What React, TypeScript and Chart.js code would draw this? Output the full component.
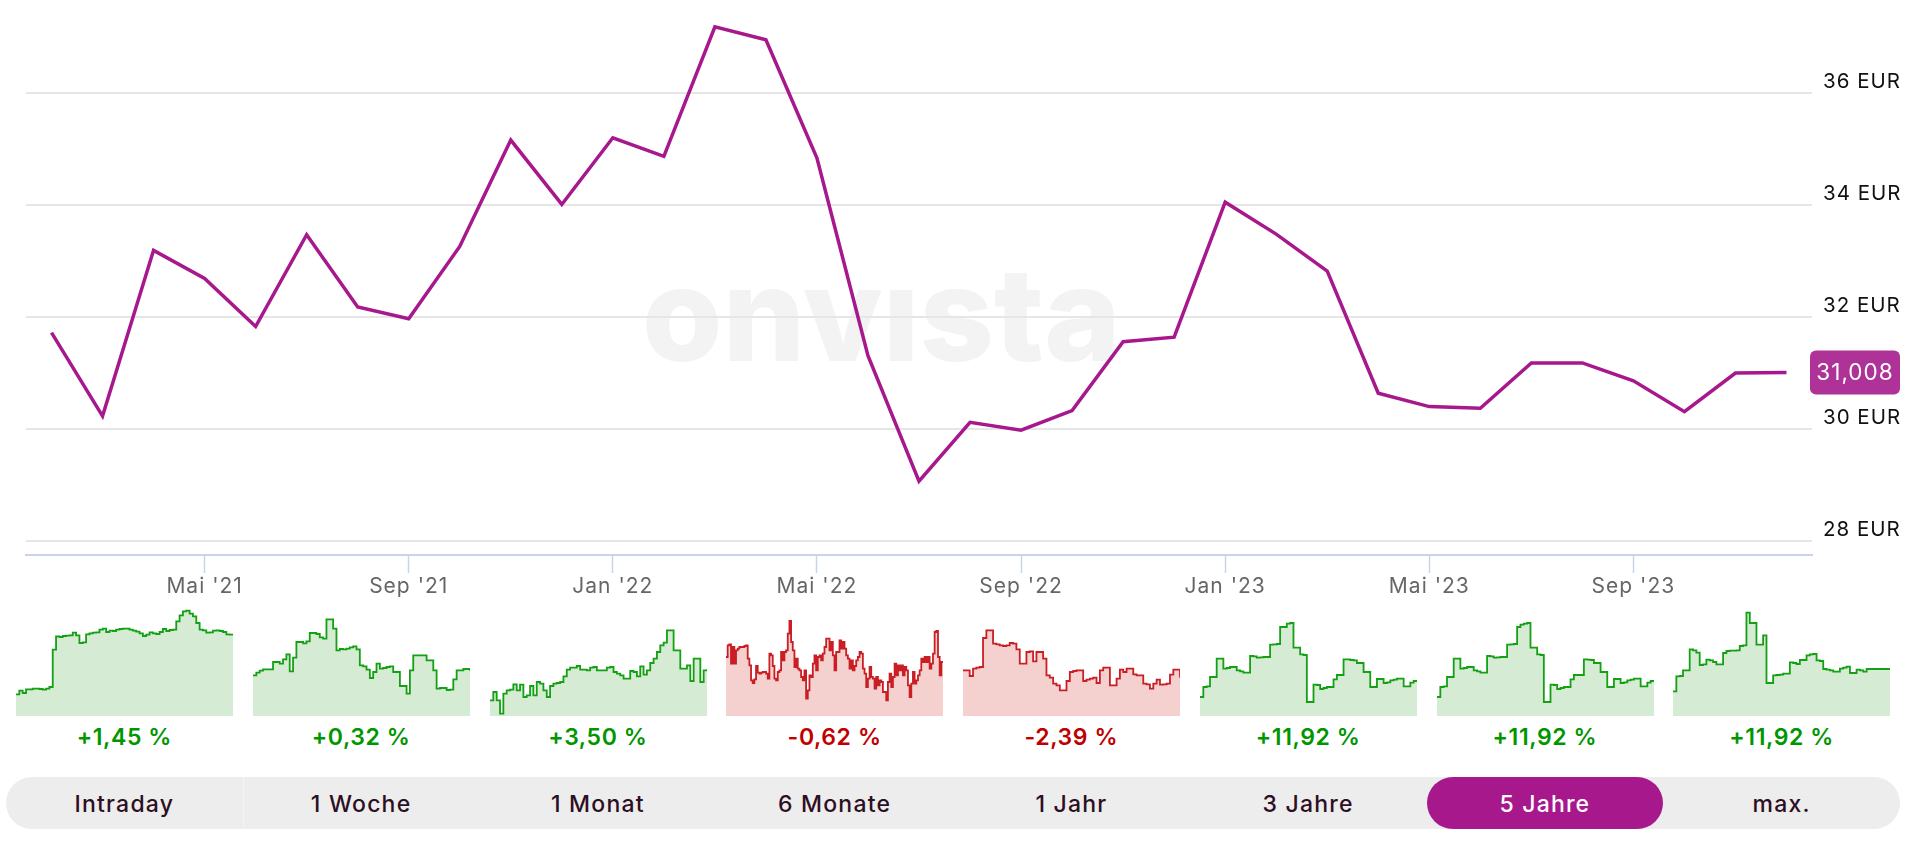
import React, { useEffect, useRef } from "react";
import Chart from "chart.js/auto";

const months = [
  "Feb '21", "Mär '21", "Apr '21", "Mai '21", "Jun '21", "Jul '21", "Aug '21", "Sep '21", "Okt '21", "Nov '21", "Dez '21",
  "Jan '22", "Feb '22", "Mär '22", "Apr '22", "Mai '22", "Jun '22", "Jul '22", "Aug '22", "Sep '22", "Okt '22", "Nov '22", "Dez '22",
  "Jan '23", "Feb '23", "Mär '23", "Apr '23", "Mai '23", "Jun '23", "Jul '23", "Aug '23", "Sep '23", "Okt '23", "Nov '23", "Dez '23",
];
const prices = [
  31.72, 30.23, 33.19, 32.69, 31.83, 33.47, 32.18, 31.97, 33.26, 35.16, 34.01,
  35.2, 34.87, 37.18, 36.95, 34.84, 31.31, 29.07, 30.12, 29.98, 30.33, 31.56, 31.64,
  34.05, 33.48, 32.82, 30.64, 30.4, 30.37, 31.18, 31.18, 30.86, 30.31, 31.0, 31.008,
];
const priceTicks = [28, 30, 32, 34, 36];
const lastPriceLabel = "31,008";

const periods = ["Intraday", "1 Woche", "1 Monat", "6 Monate", "1 Jahr", "3 Jahre", "5 Jahre", "max."];
const changes = ["+1,45 %", "+0,32 %", "+3,50 %", "-0,62 %", "-2,39 %", "+11,92 %", "+11,92 %", "+11,92 %"];

const sparkIntraday = [65, 76, 69, 80, 80, 82, 82, 81, 79, 82, 87, 199, 239, 237, 240, 241, 242, 250, 242, 219, 221, 245, 248, 250, 251, 259, 262, 252, 256, 255, 259, 261, 262, 262, 259, 256, 253, 248, 240, 244, 251, 248, 246, 252, 261, 255, 258, 259, 284, 302, 314, 316, 307, 299, 279, 259, 257, 250, 251, 256, 257, 255, 252, 245, 244, 242];
const sparkWeek = [122, 130, 136, 140, 140, 140, 162, 162, 157, 170, 185, 134, 175, 222, 222, 218, 224, 249, 249, 246, 236, 232, 290, 290, 262, 197, 201, 200, 202, 206, 209, 200, 152, 149, 139, 114, 132, 157, 142, 144, 147, 149, 132, 132, 90, 90, 67, 137, 182, 182, 182, 182, 167, 167, 137, 82, 84, 84, 78, 79, 110, 137, 137, 141, 141, 136];
const sparkMonth = [47, 72, 47, 7, 67, 77, 79, 95, 77, 94, 57, 62, 90, 62, 102, 97, 77, 57, 90, 97, 99, 102, 119, 139, 145, 145, 150, 139, 139, 137, 145, 147, 137, 137, 137, 145, 147, 132, 127, 122, 112, 112, 135, 132, 119, 149, 124, 137, 159, 172, 192, 212, 220, 257, 257, 197, 197, 142, 142, 152, 105, 172, 172, 102, 137, 140];
const sparkSixMonths = [177, 212, 215, 157, 207, 157, 197, 202, 207, 207, 207, 210, 212, 172, 152, 107, 99, 110, 150, 130, 127, 130, 132, 132, 127, 112, 187, 182, 150, 112, 107, 132, 137, 192, 167, 192, 197, 247, 285, 222, 197, 147, 172, 142, 137, 117, 107, 137, 52, 77, 122, 117, 157, 182, 137, 177, 182, 167, 187, 207, 232, 232, 197, 222, 182, 137, 192, 192, 227, 202, 222, 202, 182, 172, 142, 167, 137, 150, 167, 177, 192, 187, 142, 127, 87, 112, 147, 117, 112, 82, 117, 92, 107, 102, 72, 72, 47, 102, 127, 87, 117, 157, 122, 152, 137, 152, 122, 147, 137, 92, 57, 97, 132, 97, 107, 122, 137, 172, 162, 177, 162, 177, 142, 157, 187, 252, 255, 177, 122, 162, 160];
const sparkYear = [137, 137, 120, 142, 145, 147, 234, 257, 257, 217, 215, 212, 210, 212, 219, 217, 200, 157, 157, 192, 194, 164, 192, 192, 172, 122, 115, 97, 92, 77, 77, 105, 132, 135, 137, 137, 105, 109, 112, 115, 99, 137, 145, 145, 92, 92, 112, 139, 132, 142, 142, 125, 122, 122, 97, 95, 82, 97, 109, 94, 95, 97, 124, 139, 139, 115];
const sparkThreeYears = [57, 87, 89, 117, 117, 172, 172, 142, 144, 147, 147, 137, 134, 130, 130, 180, 179, 175, 176, 177, 177, 214, 215, 216, 267, 267, 277, 279, 205, 205, 185, 183, 42, 42, 94, 93, 81, 84, 87, 87, 110, 123, 123, 170, 170, 168, 167, 159, 159, 132, 132, 87, 87, 111, 111, 99, 101, 107, 109, 112, 112, 89, 89, 100, 105, 107];
const sparkFiveYears = [57, 87, 89, 117, 117, 172, 172, 142, 144, 147, 147, 137, 134, 130, 130, 180, 179, 175, 176, 177, 177, 214, 215, 216, 267, 274, 277, 279, 205, 205, 185, 183, 42, 42, 94, 93, 81, 84, 87, 87, 110, 123, 123, 123, 170, 169, 168, 159, 159, 132, 132, 87, 87, 111, 111, 99, 101, 107, 109, 112, 112, 89, 89, 100, 105, 107];
const sparkMax = [74, 119, 120, 137, 137, 200, 197, 190, 153, 155, 169, 167, 162, 155, 155, 189, 195, 196, 196, 197, 210, 212, 310, 279, 279, 214, 214, 242, 99, 99, 122, 123, 124, 127, 127, 161, 159, 156, 168, 168, 182, 185, 186, 167, 165, 141, 139, 137, 133, 133, 142, 145, 148, 129, 129, 139, 137, 133, 141, 141, 141, 141, 141, 141, 141, 141];
const sparks = [sparkIntraday, sparkWeek, sparkMonth, sparkSixMonths, sparkYear, sparkThreeYears, sparkFiveYears, sparkMax];

const FONT = "Inter";
const PURPLE = "#a7188c";
const GREEN = { line: "#13a013", fill: "#d5ebd3", text: "#009600" };
const RED = { line: "#c81e24", fill: "#f4d0ce", text: "#c00000" };

// canvas text is a bit too tight in Inter compared to the original font
const textSpacing = {
  id: "textSpacing",
  beforeDraw(chart: any) {
    chart.ctx.letterSpacing = "1px";
  },
};

const lastPriceBadge = {
  id: "lastPriceBadge",
  afterDraw(chart: any) {
    const { ctx, scales } = chart;
    const y = scales.y.getPixelForValue(prices[prices.length - 1]);
    ctx.save();
    ctx.fillStyle = "#ae3297";
    ctx.beginPath();
    ctx.roundRect(1810, y - 22, 90, 44, 6);
    ctx.fill();
    ctx.fillStyle = "#fff";
    ctx.font = `22.5px ${FONT}`;
    ctx.textAlign = "center";
    ctx.textBaseline = "middle";
    ctx.fillText(lastPriceLabel, 1855, y + 1);
    ctx.restore();
  },
};

const MainChart = () => {
  const ref = useRef<HTMLCanvasElement>(null);
  useEffect(() => {
    const chart = new Chart(ref.current!, {
      type: "line",
      data: {
        labels: months,
        datasets: [{ data: prices, borderColor: PURPLE, borderWidth: 3.5, pointRadius: 0, tension: 0, borderJoinStyle: "miter" }],
      },
      options: {
        responsive: false,
        animation: false,
        layout: { padding: { left: 26, top: 9, right: 0, bottom: 0 } },
        plugins: { legend: { display: false }, tooltip: { enabled: false } },
        scales: {
          x: {
            offset: true,
            afterBuildTicks: (axis: any) => {
              axis.ticks = axis.ticks.filter((t: any) => /^(Jan|Mai|Sep)/.test(months[t.value]));
            },
            afterFit: (axis: any) => {
              axis.height = 45;
              axis.paddingLeft = 0;
              axis.paddingRight = 0;
            },
            border: { color: "#c8d4ea", width: 2 },
            grid: { drawOnChartArea: false, tickLength: 18, tickColor: "#c8d4ea", tickWidth: 1.5 },
            ticks: { autoSkip: false, maxRotation: 0, padding: 1, color: "#666", font: { family: FONT, size: 21 } },
          },
          y: {
            position: "right",
            min: 27.75,
            max: 37.5,
            afterBuildTicks: (axis: any) => { axis.ticks = priceTicks.map((value) => ({ value })); },
            afterFit: (axis: any) => {
              axis.width = 102;
              axis.paddingTop = 0;
              axis.paddingBottom = 0;
            },
            border: { display: false },
            grid: { color: "#e6e6e6", lineWidth: 2, drawTicks: false },
            ticks: {
              padding: 11,
              labelOffset: -11,
              color: "#111",
              font: { family: FONT, size: 20.5 },
              callback: (v: any) => `${v} EUR`,
            },
          },
        },
      },
      plugins: [textSpacing, lastPriceBadge],
    } as any);
    return () => chart.destroy();
  }, []);
  return <canvas ref={ref} width={1914} height={600} style={{ position: "absolute", left: 0, top: 0 }} />;
};

const Spark = ({ values, left, colors }: { values: number[]; left: number; colors: typeof GREEN }) => {
  const ref = useRef<HTMLCanvasElement>(null);
  useEffect(() => {
    const chart = new Chart(ref.current!, {
      type: "line",
      data: {
        labels: values.map((_, i) => i),
        datasets: [{
          data: values,
          stepped: true,
          fill: "origin",
          borderColor: colors.line,
          backgroundColor: colors.fill,
          borderWidth: 1.8,
          pointRadius: 0,
        }],
      },
      options: {
        responsive: false,
        animation: false,
        layout: { padding: 0 },
        plugins: { legend: { display: false }, tooltip: { enabled: false } },
        scales: {
          x: { display: false },
          y: { display: false, min: 0, max: 342 },
        },
      },
    } as any);
    return () => chart.destroy();
  }, [values, colors]);
  return <canvas ref={ref} width={217} height={114} style={{ position: "absolute", left, top: 602 }} />;
};

const SLOT = 236.75;
const BAR_LEFT = 6;

export default function App() {
  const active = periods.indexOf("5 Jahre");
  return (
    <div style={{ position: "absolute", left: 0, top: 0, width: 1914, height: 852, background: "#fff", overflow: "hidden", fontFamily: FONT }}>
      <div style={{ position: "absolute", left: 642, top: 234, fontWeight: 800, fontSize: 130, lineHeight: "160px", color: "#f3f3f3" }}>
        onvista
      </div>
      {/* the logo's i has no dot */}
      <div style={{ position: "absolute", left: 875, top: 240, width: 42, height: 47, background: "#fff" }} />
      <MainChart />
      {sparks.map((values, i) => {
        const colors = changes[i].startsWith("-") ? RED : GREEN;
        const slotLeft = BAR_LEFT + SLOT * i;
        return (
          <React.Fragment key={periods[i]}>
            <Spark values={values} left={slotLeft + 10} colors={colors} />
            <div style={{ position: "absolute", left: slotLeft, width: SLOT, top: 722, height: 30, lineHeight: "30px", textAlign: "center", fontSize: 23, letterSpacing: 0.6, fontWeight: 600, color: colors.text }}>
              {changes[i]}
            </div>
          </React.Fragment>
        );
      })}
      <div style={{ position: "absolute", left: BAR_LEFT, top: 777, width: 1894, height: 52, borderRadius: 26, background: "#ededed" }} />
      <div style={{ position: "absolute", left: BAR_LEFT + SLOT, top: 777, width: 1, height: 52, background: "#f4f4f4" }} />
      {periods.map((p, i) => (
        <div
          key={p}
          style={{
            position: "absolute",
            left: BAR_LEFT + SLOT * i,
            width: SLOT,
            top: 779,
            height: 50,
            lineHeight: "50px",
            textAlign: "center",
            fontSize: 23,
            letterSpacing: 1.2,
            fontWeight: 500,
            color: i === active ? "#fff" : "#2d0f23",
            zIndex: 1,
          }}
        >
          {p}
        </div>
      ))}
      <div style={{ position: "absolute", left: BAR_LEFT + SLOT * active, width: SLOT, top: 777, height: 52, borderRadius: 26, background: PURPLE }} />
    </div>
  );
}
